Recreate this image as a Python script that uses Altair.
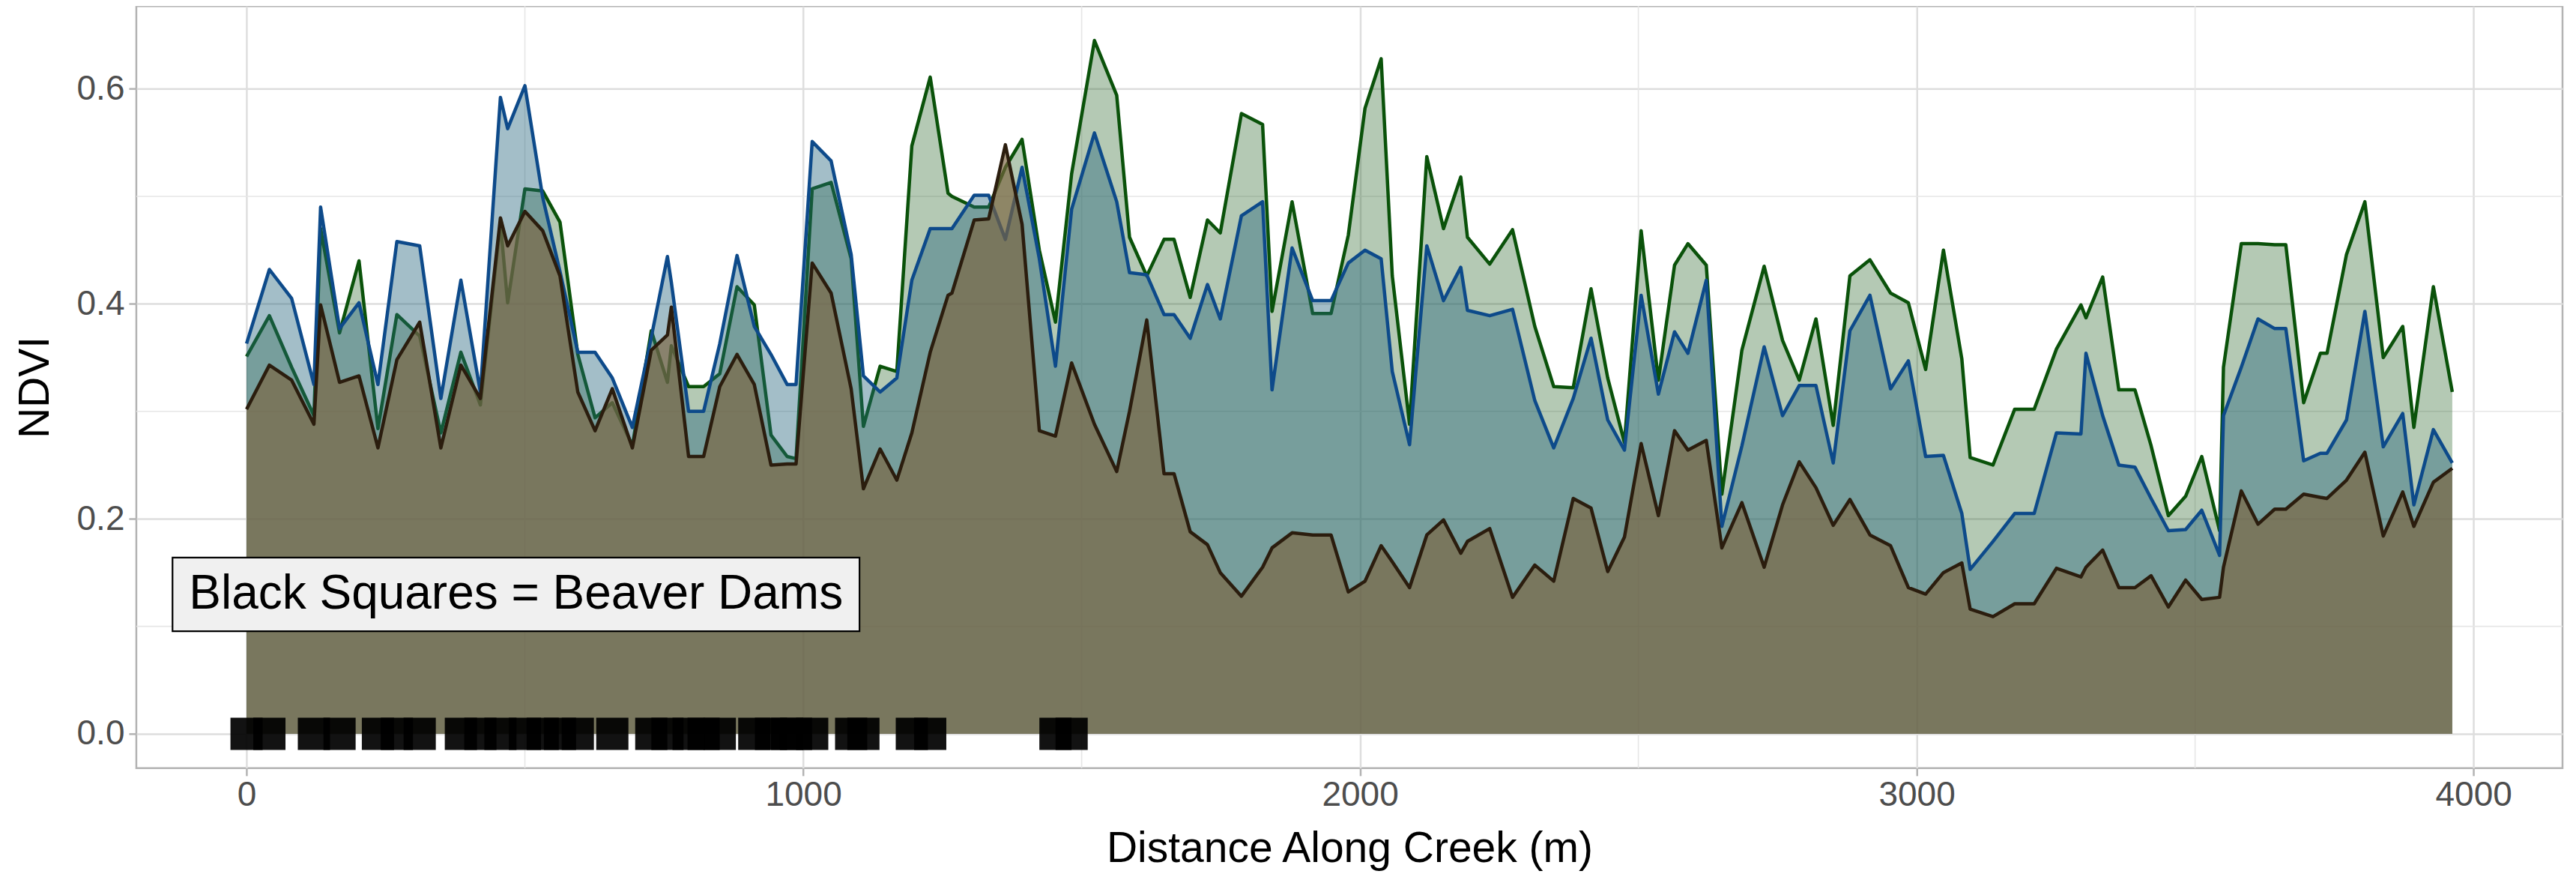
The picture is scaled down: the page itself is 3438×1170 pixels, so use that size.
import altair as alt
import pandas as pd

# ---- data ----
distance = [0, 41, 81, 121, 133, 167, 202, 236, 270, 311, 349, 385, 420, 456, 469, 500,
            532, 563, 595, 626, 657, 693, 727, 756, 763, 794, 821, 850, 881, 912, 942, 971,
            987, 1016, 1050, 1086, 1108, 1138, 1168, 1195, 1228, 1260, 1267, 1307, 1333, 1363,
            1393, 1424, 1453, 1482, 1523, 1563, 1586, 1617, 1648, 1666, 1695, 1726, 1749, 1787,
            1825, 1842, 1878, 1915, 1948, 1979, 2009, 2038, 2058, 2089, 2120, 2150, 2181, 2193,
            2233, 2274, 2314, 2348, 2383, 2415, 2445, 2475, 2505, 2536, 2565, 2589, 2622, 2650,
            2686, 2726, 2759, 2789, 2819, 2850, 2880, 2916, 2953, 2985, 3016, 3048, 3081, 3096,
            3137, 3176, 3211, 3251, 3295, 3304, 3334, 3363, 3392, 3421, 3452, 3483, 3512, 3544,
            3551, 3583, 3613, 3643, 3663, 3695, 3725, 3737, 3772, 3805, 3838, 3873, 3893, 3928,
            3962]

ndvi_green = [0.351, 0.389, 0.341, 0.296, 0.470, 0.373, 0.440, 0.284, 0.390, 0.370, 0.280, 0.355,
              0.306, 0.475, 0.401, 0.507, 0.505, 0.476, 0.353, 0.294, 0.308, 0.268, 0.375, 0.327,
              0.361, 0.323, 0.323, 0.335, 0.416, 0.399, 0.278, 0.258, 0.256, 0.507, 0.513, 0.442,
              0.286, 0.342, 0.337, 0.547, 0.611, 0.503, 0.500, 0.490, 0.490, 0.527, 0.553, 0.450,
              0.383, 0.521, 0.645, 0.594, 0.462, 0.426, 0.460, 0.460, 0.406, 0.478, 0.466, 0.577,
              0.567, 0.393, 0.495, 0.391, 0.391, 0.464, 0.582, 0.628, 0.426, 0.288, 0.537, 0.470,
              0.518, 0.462, 0.437, 0.469, 0.379, 0.323, 0.322, 0.414, 0.331, 0.271, 0.468, 0.329,
              0.436, 0.456, 0.436, 0.223, 0.357, 0.435, 0.366, 0.329, 0.386, 0.287, 0.426, 0.441,
              0.410, 0.401, 0.339, 0.450, 0.349, 0.257, 0.250, 0.302, 0.302, 0.358, 0.399, 0.387,
              0.425, 0.320, 0.320, 0.268, 0.203, 0.221, 0.258, 0.189, 0.341, 0.456, 0.456, 0.455,
              0.455, 0.308, 0.354, 0.354, 0.446, 0.495, 0.350, 0.379, 0.285, 0.416, 0.318]

ndvi_blue = [0.363, 0.432, 0.405, 0.325, 0.490, 0.377, 0.401, 0.325, 0.458, 0.454, 0.312, 0.422,
             0.318, 0.592, 0.563, 0.603, 0.499, 0.430, 0.355, 0.355, 0.331, 0.285, 0.369, 0.444,
             0.420, 0.300, 0.300, 0.363, 0.445, 0.379, 0.353, 0.325, 0.325, 0.551, 0.533, 0.446,
             0.333, 0.318, 0.331, 0.422, 0.470, 0.470, 0.470, 0.501, 0.501, 0.460, 0.527, 0.442,
             0.342, 0.488, 0.559, 0.495, 0.429, 0.427, 0.390, 0.390, 0.368, 0.418, 0.386, 0.482,
             0.495, 0.320, 0.452, 0.403, 0.403, 0.438, 0.450, 0.442, 0.337, 0.269, 0.454, 0.403,
             0.434, 0.394, 0.389, 0.395, 0.310, 0.266, 0.312, 0.368, 0.292, 0.264, 0.408, 0.316,
             0.374, 0.354, 0.422, 0.193, 0.268, 0.360, 0.296, 0.324, 0.324, 0.252, 0.375, 0.408,
             0.321, 0.347, 0.258, 0.259, 0.205, 0.153, 0.179, 0.205, 0.205, 0.280, 0.279, 0.354,
             0.296, 0.250, 0.248, 0.219, 0.189, 0.190, 0.208, 0.166, 0.296, 0.341, 0.386, 0.377,
             0.377, 0.254, 0.261, 0.261, 0.292, 0.393, 0.267, 0.298, 0.213, 0.283, 0.252]

ndvi_black = [0.302, 0.343, 0.329, 0.288, 0.399, 0.327, 0.333, 0.266, 0.348, 0.383, 0.266, 0.343,
              0.312, 0.480, 0.454, 0.486, 0.468, 0.426, 0.318, 0.282, 0.321, 0.266, 0.357, 0.371,
              0.397, 0.258, 0.258, 0.323, 0.353, 0.325, 0.250, 0.251, 0.251, 0.438, 0.410, 0.321,
              0.228, 0.265, 0.236, 0.280, 0.355, 0.408, 0.410, 0.478, 0.479, 0.548, 0.474, 0.282,
              0.277, 0.345, 0.288, 0.244, 0.300, 0.385, 0.242, 0.242, 0.188, 0.176, 0.150, 0.128,
              0.155, 0.173, 0.187, 0.185, 0.185, 0.132, 0.142, 0.175, 0.160, 0.136, 0.185, 0.199,
              0.168, 0.179, 0.191, 0.127, 0.157, 0.142, 0.219, 0.210, 0.151, 0.183, 0.270, 0.203,
              0.282, 0.264, 0.273, 0.173, 0.215, 0.155, 0.213, 0.253, 0.229, 0.194, 0.218, 0.185,
              0.175, 0.136, 0.130, 0.150, 0.159, 0.116, 0.109, 0.121, 0.121, 0.154, 0.146, 0.155,
              0.171, 0.136, 0.136, 0.147, 0.118, 0.143, 0.125, 0.127, 0.155, 0.226, 0.195, 0.209,
              0.209, 0.223, 0.220, 0.219, 0.236, 0.262, 0.184, 0.225, 0.193, 0.234, 0.247]

dam_distance = [0, 41, 121, 167, 236, 270, 311, 385, 420, 456, 500, 532, 563, 595, 657, 727,
                756, 794, 821, 850, 912, 942, 971, 987, 1016, 1086, 1108, 1195, 1228, 1453, 1482]

x_ticks = [0, 1000, 2000, 3000, 4000]
x_minor = [500, 1500, 2500, 3500]
y_ticks = [0.0, 0.2, 0.4, 0.6]
y_minor = [0.1, 0.3, 0.5]

label_text = ["Black Squares = Beaver Dams"]
label_x = [484]
label_y = [0.1297]
label_box_x = [-133]
label_box_x2 = [1101]
label_box_y = [0.0955]
label_box_y2 = [0.164]

# ---- styling ----
GREEN_LINE = "#0a520a"
GREEN_FILL = "#054b05"
BLUE_LINE = "#0d4a8a"
BLUE_FILL = "#24647c"
BROWN_LINE = "#2b1d0e"
BROWN_FILL = "#7b623e"
FONT = "Liberation Sans"

df = pd.DataFrame({"d": distance, "g": ndvi_green, "b": ndvi_blue, "k": ndvi_black})
dams = pd.DataFrame({"d": dam_distance, "v": [0.0] * len(dam_distance)})
minor_x_df = pd.DataFrame({"d": x_minor})
minor_y_df = pd.DataFrame({"v": y_minor})
label_df = pd.DataFrame({"d": label_x, "v": label_y, "t": label_text})
box_df = pd.DataFrame({"d": label_box_x, "d2": label_box_x2, "v": label_box_y, "v2": label_box_y2})

xscale = alt.Scale(domain=[-198, 4160], nice=False, zero=False)
yscale = alt.Scale(domain=[-0.032, 0.677], nice=False, zero=False)

xaxis = alt.Axis(title="Distance Along Creek (m)", values=x_ticks, format="d",
                 grid=True, gridColor="#dedede", gridWidth=2.5, domain=False,
                 tickColor="#b3b3b3", tickWidth=2.5, tickSize=10,
                 labelFontSize=46, labelColor="#4d4d4d", labelFont=FONT, labelPadding=4,
                 titleFontSize=57, titleFont=FONT, titleColor="black", titleFontWeight="normal",
                 titleY=108, titleBaseline="middle")
yaxis = alt.Axis(title="NDVI", values=y_ticks, format=".1f",
                 grid=True, gridColor="#dedede", gridWidth=2.5, domain=False,
                 tickColor="#b3b3b3", tickWidth=2.5, tickSize=10,
                 labelFontSize=46, labelColor="#4d4d4d", labelFont=FONT, labelPadding=6,
                 titleFontSize=57, titleFont=FONT, titleColor="black", titleFontWeight="normal",
                 titleX=-134, titleBaseline="middle")

X = alt.X("d:Q", scale=xscale, axis=xaxis)


def Y(field):
    return alt.Y(field, type="quantitative", scale=yscale, axis=yaxis)


minor_v = alt.Chart(minor_x_df).mark_rule(color="#e6e6e6", strokeWidth=1.6).encode(x=X)
minor_h = alt.Chart(minor_y_df).mark_rule(color="#e6e6e6", strokeWidth=1.6).encode(y=Y("v"))

layers = [minor_v, minor_h]
for field, fill, fop, line in [("g", GREEN_FILL, 0.3, GREEN_LINE), ("b", BLUE_FILL, 0.42, BLUE_LINE),
                               ("k", BROWN_FILL, 0.66, BROWN_LINE)]:
    layers.append(alt.Chart(df).mark_area(color=fill, opacity=fop).encode(
        x=X, y=Y(field), y2=alt.datum(0)))
    layers.append(alt.Chart(df).mark_line(color=line, strokeWidth=4.5, strokeJoin="round").encode(
        x=X, y=Y(field)))

squares = alt.Chart(dams).mark_square(size=1849, color="black", opacity=0.93).encode(
    x=X, y=Y("v"))
box = alt.Chart(box_df).mark_rect(fill="#f0f0f0", stroke="black", strokeWidth=2.2).encode(
    x=X, x2="d2", y=Y("v"), y2="v2")
text = alt.Chart(label_df).mark_text(fontSize=64, font=FONT, color="black",
                                     baseline="middle", align="center").encode(
    x=X, y=Y("v"), text="t:N")

layers += [squares, box, text]

chart = alt.layer(*layers).properties(
    width=3239, height=1017,
    autosize=alt.AutoSizeParams(type="none"),
    padding={"left": 174, "top": 0, "right": 10, "bottom": 137},
).configure_view(stroke="#b3b3b3", strokeWidth=2.5)

chart.save("out.html", embed_options={"renderer": "svg", "actions": False})
